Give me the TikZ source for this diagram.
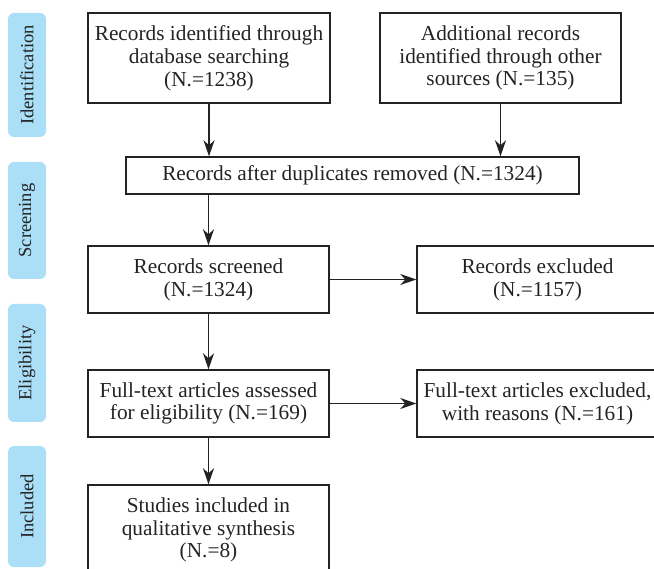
\documentclass[tikz,border=0pt]{standalone}
\usepackage{fontspec}
\setmainfont{Liberation Serif}
\usetikzlibrary{arrows.meta}
\definecolor{bandblue}{RGB}{171,223,247}
\definecolor{ink}{RGB}{35,35,35}
\tikzset{
  box/.style={draw=ink, line width=1.4pt, text=ink, align=center, inner sep=0pt,
    font=\fontsize{21.3}{22.8}\selectfont},
  band/.style={fill=bandblue, rounded corners=6pt, rotate=90, text=ink, inner sep=0pt,
    minimum height=38pt, font=\fontsize{18.5}{20}\selectfont},
  flow/.style={draw=ink, line width=1.5pt, -{Stealth[length=16pt,width=11pt,inset=5pt]}}
}
\begin{document}
\begin{tikzpicture}[x=1pt,y=-1pt]
    \useasboundingbox (0,0) rectangle (654,569);

    \foreach \i/\y/\l/\t in {1/75/124/Identification, 2/220.5/117/Screening,
                             3/363/118/Eligibility, 4/506.5/121/Included}
      {
        \node[band, minimum width=\l pt] (band\i) at (27,\y) {\t};
      }

    \node[box, minimum width=242pt, minimum height=90pt] (found) at (209,58)
      {Records identified through\\database searching\\(N.=1238)};
    \node[box, minimum width=241pt, minimum height=90pt] (other) at (500.5,58)
      {Additional records\\identified through other\\sources (N.=135)};
    \node[box, minimum width=453pt, minimum height=37pt] (dedup) at (352.5,175.5)
      {Records after duplicates removed (N.=1324)};
    \node[box, minimum width=241pt, minimum height=67pt] (screen) at (208.5,279.5)
      {Records screened\\(N.=1324)};
    \node[box, minimum width=241pt, minimum height=67pt] (screenout) at (537.5,279.5)
      {Records excluded\\(N.=1157)};
    \node[box, minimum width=241pt, minimum height=67pt] (full) at (208.5,403.5)
      {Full-text articles assessed\\for eligibility (N.=169)};
    \node[box, minimum width=241pt, minimum height=67pt] (fullout) at (537.5,403.5)
      {Full-text articles excluded,\\with reasons (N.=161)};
    \node[box, minimum width=241pt, minimum height=90pt] (incl) at (208.5,530)
      {Studies included in\\qualitative synthesis\\(N.=8)};

    \draw[flow] (found.south) -- (found.south |- dedup.north);
    \draw[flow] (other.south) -- (other.south |- dedup.north);
    \draw[flow] (screen.north |- dedup.south) -- (screen.north);
    \draw[flow] (screen.east) -- (screenout.west);
    \draw[flow] (screen.south) -- (full.north);
    \draw[flow] (full.east) -- (fullout.west);
    \draw[flow] (full.south) -- (incl.north);
  \end{tikzpicture}
\end{document}
